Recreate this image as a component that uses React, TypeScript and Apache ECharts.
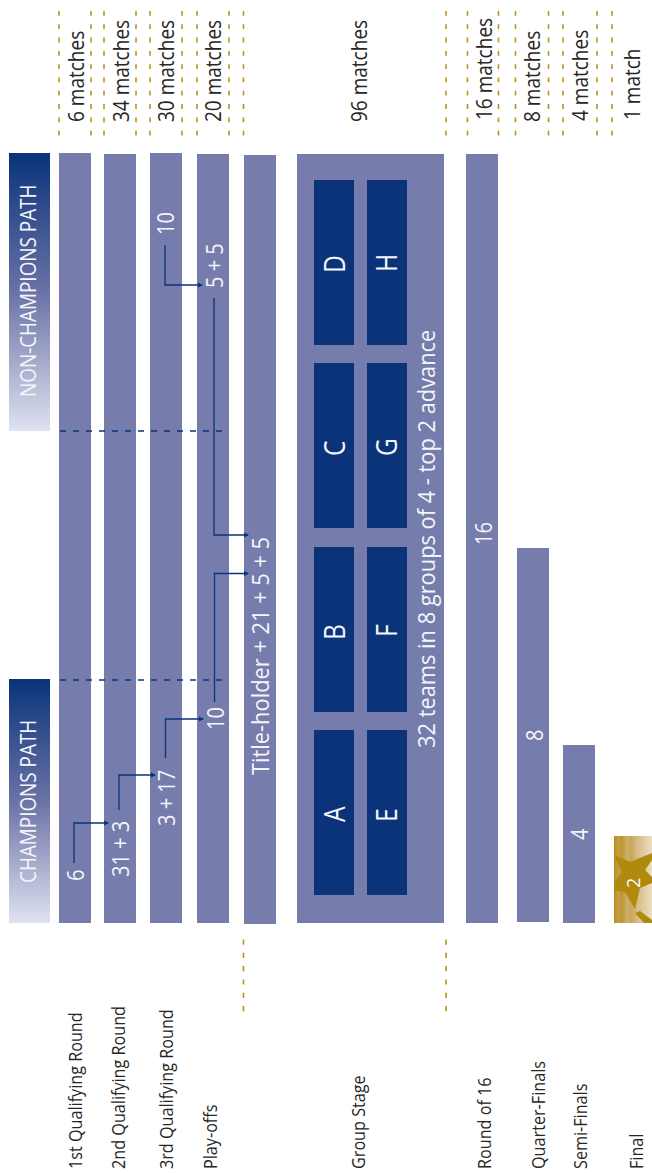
import React, { useEffect, useRef } from "react";
import * as echarts from "echarts";

const FONT = '"Open Sans", "Noto Sans", sans-serif';
const NAVY = "#0a337a";
const BAR = "#767cab";
const GOLD = "#bf9213";
const INK = "#262626";

// [left, right, top, bottom] in the diagram's own units
const stageBars = [
  [59, 91, 153, 923],
  [104, 136, 154, 923],
  [150, 182, 153, 923],
  [197, 229, 154, 923],
  [244, 276, 155, 924],
  [297, 444, 154, 923],
  [466, 498, 154, 923],
  [517, 549, 548, 922],
  [563, 595, 745, 923],
];
const pathBars = [
  [9, 50, 679, 923],
  [9, 50, 153, 431],
];
const finalBar = [[614, 652, 836, 923]];
const groupBoxes = [
  [314, 354, 730, 895],
  [314, 354, 547, 712],
  [314, 354, 363, 528],
  [314, 354, 180, 345],
  [367, 407, 730, 895],
  [367, 407, 547, 712],
  [367, 407, 363, 528],
  [367, 407, 180, 345],
];
const starShape = [
  [614, 855], [630, 862], [652, 853], [652, 860], [645, 870], [652, 877], [652, 883], [640, 888],
  [635, 909], [625, 892], [614, 890], [614, 883], [622, 872],
];
const starShard = [[635, 913], [644, 923], [652, 923], [652, 920], [640, 911]];

const topDashX = [59, 91, 104, 136, 150, 182, 197, 229, 243.5, 446, 467.5, 498.5, 515.5, 548.5, 563, 597, 612];
const bottomDashX = [243.5, 446];
const pathDashY = [431, 680];

// [x0, y0, x1, y1, x2, y2]: an elbow that ends in an arrow
const elbows = [
  [74, 863, 74, 823, 108, 823],
  [119, 810, 119, 775, 155, 775],
  [165.5, 758, 165.5, 719, 203, 719],
  [214.5, 702, 214.5, 573.5, 248, 573.5],
  [214, 298, 214, 535, 248, 535],
  [165, 245, 165, 285, 202, 285],
];

const matchTexts = ["6 matches", "34 matches", "30 matches", "20 matches", "96 matches", "16 matches", "8 matches", "4 matches", "1 match"];
const matchX = [75, 120, 165, 212, 358, 483, 531, 579, 631];
const matchY = [122, 122, 122, 122, 122, 120, 122, 121, 120];

const stageTexts = ["1st Qualifying Round", "2nd Qualifying Round", "3rd Qualifying Round", "Play-offs", "Group Stage", "Round of 16", "Quarter-Finals", "Semi-Finals", "Final"];
const stageX = [75, 118, 166, 210, 358, 484, 538, 580, 636];
const stageY = [1169, 1169, 1169, 1169, 1169, 1169, 1169, 1169, 1169];

const pathTexts = ["CHAMPIONS PATH", "NON-CHAMPIONS PATH"];
const pathX = [28, 28];
const pathY = [883, 397];

const numberTexts = ["6", "31 + 3", "3 + 17", "10", "10", "5 + 5", "16", "8", "4"];
const numberX = [74.5, 120, 166, 215, 165, 214, 483, 534, 579];
const numberY = [881, 877, 826, 730, 235, 288, 545, 741, 840];

const captionTexts = ["Title-holder + 21 + 5 + 5", "32 teams in 8 groups of 4 - top 2 advance"];
const captionX = [260, 426];
const captionY = [775, 748];

const groupLetters = ["A", "B", "C", "D", "E", "F", "G", "H"];
const groupX = [334, 334, 334, 334, 386, 386, 386, 386];
const groupY = [822, 640, 456, 273, 822, 637, 456, 272];

const finalTexts = ["2"];
const finalX = [633];
const finalY = [888];

const rectSeries = (rows: number[][], fill: any) => ({
  type: "custom",
  coordinateSystem: "cartesian2d",
  silent: true,
  clip: false,
  data: rows,
  renderItem: (_p: any, api: any) => {
    const a = api.coord([api.value(0), api.value(2)]);
    const b = api.coord([api.value(1), api.value(3)]);
    return { type: "rect", shape: { x: a[0], y: a[1], width: b[0] - a[0], height: b[1] - a[1] }, style: { fill } };
  },
});

const textSeries = (texts: string[], xs: number[], ys: number[], fontSize: number, fill: string, scaleX = 1) => ({
  type: "custom",
  coordinateSystem: "cartesian2d",
  silent: true,
  clip: false,
  z: 5,
  data: xs.map((x, i) => [x, ys[i]]),
  renderItem: (p: any, api: any) => {
    const c = api.coord([api.value(0), api.value(1)]);
    return {
      type: "text",
      x: c[0],
      y: c[1],
      rotation: Math.PI / 2,
      scaleX,
      style: { text: texts[p.dataIndex], fontSize, fontFamily: FONT, fill, align: "left", verticalAlign: "middle" },
    };
  },
});

const lineSeries = (rows: number[][], stroke: string, lineWidth: number, lineDash?: number[]) => ({
  type: "custom",
  coordinateSystem: "cartesian2d",
  silent: true,
  clip: false,
  z: 3,
  data: rows,
  renderItem: (_p: any, api: any) => {
    const a = api.coord([api.value(0), api.value(1)]);
    const b = api.coord([api.value(2), api.value(3)]);
    return { type: "line", shape: { x1: a[0], y1: a[1], x2: b[0], y2: b[1] }, style: { stroke, lineWidth, lineDash, fill: null } };
  },
});

const polygonSeries = (shapes: number[][][], fill: string) => ({
  type: "custom",
  coordinateSystem: "cartesian2d",
  silent: true,
  clip: false,
  z: 3,
  data: shapes.map((_s, i) => [i]),
  renderItem: (p: any, api: any) => ({
    type: "polygon",
    shape: { points: shapes[p.dataIndex].map((q) => api.coord(q)) },
    style: { fill },
  }),
});

const elbowSeries = () => ({
  type: "custom",
  coordinateSystem: "cartesian2d",
  silent: true,
  clip: false,
  z: 4,
  data: elbows,
  renderItem: (_p: any, api: any) => {
    const a = api.coord([api.value(0), api.value(1)]);
    const b = api.coord([api.value(2), api.value(3)]);
    const c = api.coord([api.value(4), api.value(5)]);
    return {
      type: "group",
      children: [
        { type: "polyline", shape: { points: [a, b, c] }, style: { stroke: NAVY, lineWidth: 1.3, fill: null } },
        { type: "polygon", shape: { points: [[c[0] + 1, c[1]], [c[0] - 4, c[1] - 2.5], [c[0] - 4, c[1] + 2.5]] }, style: { fill: NAVY } },
      ],
    };
  },
});

export default function App() {
  const ref = useRef<HTMLDivElement>(null);
  useEffect(() => {
    document.body.style.margin = "0";
    const chart = echarts.init(ref.current!, undefined, { renderer: "svg" });
    const pathFill = new echarts.graphic.LinearGradient(0, 0, 0, 1, [
      { offset: 0, color: "#0a337a" },
      { offset: 0.5, color: "#6a72a6" },
      { offset: 1, color: "#dfe2f0" },
    ]);
    const goldFill = new echarts.graphic.LinearGradient(0, 0, 1, 0, [
      { offset: 0, color: "#b78d1c" },
      { offset: 0.12, color: "#c39f44" },
      { offset: 0.2, color: "#bd9633" },
      { offset: 0.35, color: "#cdaf66" },
      { offset: 0.45, color: "#c7a657" },
      { offset: 0.6, color: "#d6bc82" },
      { offset: 0.72, color: "#dcc594" },
      { offset: 1, color: "#ecdfc4" },
    ]);
    chart.setOption({
      animation: false,
      backgroundColor: "#ffffff",
      grid: { left: 0, right: 0, top: 0, bottom: 0 },
      xAxis: { type: "value", min: 0, max: 652, show: false },
      yAxis: { type: "value", min: 0, max: 1173, inverse: true, show: false },
      series: [
        rectSeries(stageBars, BAR),
        rectSeries(pathBars, pathFill),
        rectSeries(finalBar, goldFill),
        { ...rectSeries(groupBoxes, NAVY), z: 3 },
        polygonSeries([starShape, starShard], "#b08a0c"),
        lineSeries(topDashX.map((x) => [x, 11, x, 136]), GOLD, 1.6, [4.8, 8.5]),
        lineSeries(bottomDashX.map((x) => [x, 939.5, x, 1012]), GOLD, 1.6, [5.2, 8.1]),
        lineSeries(pathDashY.map((y) => [60, y, 226, y]), NAVY, 1.3, [6, 7]),
        elbowSeries(),
        textSeries(matchTexts, matchX, matchY, 22, INK, 0.865),
        textSeries(stageTexts, stageX, stageY, 18, INK, 0.9),
        textSeries(pathTexts, pathX, pathY, 21, "#f4f5fa", 0.9),
        textSeries(numberTexts, numberX, numberY, 23, "#f4f5fa", 0.87),
        textSeries(captionTexts, captionX, captionY, 24, "#f4f5fa", 0.91),
        textSeries(groupLetters, groupX, groupY, 30, "#f4f5fa", 0.82),
        textSeries(finalTexts, finalX, finalY, 18, "#ffffff"),
      ],
    });
    return () => chart.dispose();
  }, []);
  return <div ref={ref} style={{ position: "absolute", left: 0, top: 0, width: 652, height: 1173 }} />;
}
